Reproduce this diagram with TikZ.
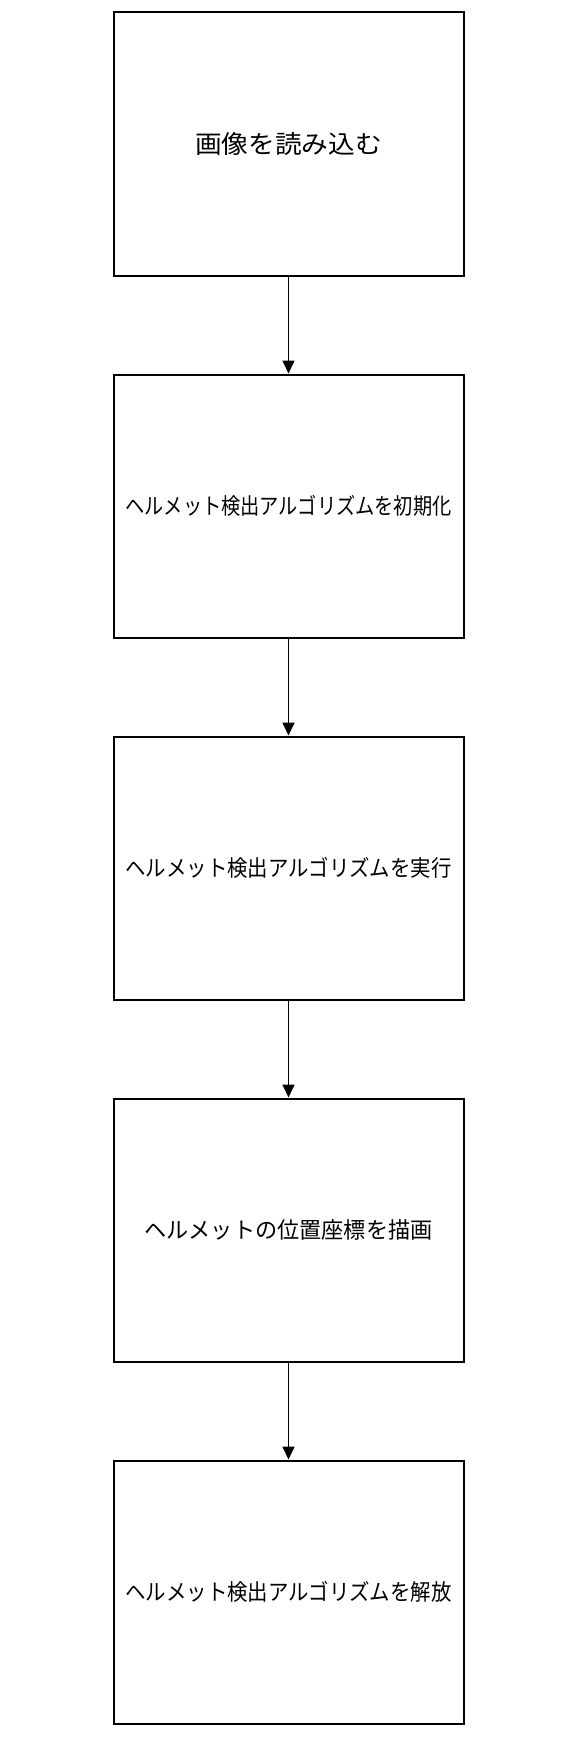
\documentclass[tikz,border=0pt]{standalone}
\usepackage{fontspec}
\usepackage{graphicx}
\setmainfont{Noto Sans CJK JP}
\usetikzlibrary{arrows.meta}
\tikzset{
  procbox/.style={draw=black, line width=2pt, fill=white, rectangle, minimum width=350pt, minimum height=263pt, inner sep=0pt},
  flowarrow/.style={draw=black, line width=1.7pt, -{Triangle[width=12pt,length=13pt]}}
}
\newcommand{\fitlabel}[3]{\resizebox{#1}{\height}{\fontsize{#2}{#2}\selectfont #3}}
\begin{document}
\begin{tikzpicture}[x=1pt,y=-1pt]
\fill[white] (0,0) rectangle (580,1737);
\useasboundingbox (0,0) rectangle (580,1737);
\node[procbox] (n1) at (288.5,144) {\fitlabel{187pt}{25}{画像を読み込む}};
\node[procbox] (n2) at (288.5,506) {\fitlabel{326pt}{22.5}{ヘルメット検出アルゴリズムを初期化}};
\node[procbox] (n3) at (288.5,868) {\fitlabel{326pt}{22.5}{ヘルメット検出アルゴリズムを実行}};
\node[procbox] (n4) at (288.5,1230) {\fitlabel{288pt}{22.5}{ヘルメットの位置座標を描画}};
\node[procbox] (n5) at (288.5,1592) {\fitlabel{326pt}{22.5}{ヘルメット検出アルゴリズムを解放}};
\draw[flowarrow] (n1.south) -- (n2.north);
\draw[flowarrow] (n2.south) -- (n3.north);
\draw[flowarrow] (n3.south) -- (n4.north);
\draw[flowarrow] (n4.south) -- (n5.north);
\end{tikzpicture}
\end{document}
